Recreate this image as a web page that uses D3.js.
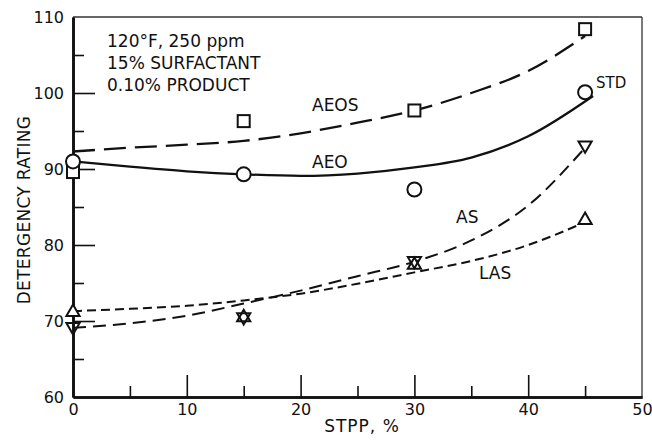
<!DOCTYPE html>
<html>
<head>
<meta charset="utf-8">
<script src="https://cdn.jsdelivr.net/npm/d3@7"></script>
<style>
  html, body { margin: 0; padding: 0; background: #fff; }
  svg { display: block; }
  text { font-family: "DejaVu Sans", sans-serif; fill: #111; }
</style>
</head>
<body>
<script>
// Detergency rating vs. STPP level for four surfactant systems
const xTicksMajor = [0, 10, 20, 30, 40, 50];
const xTicksMinor = [5, 15, 25, 35, 45];
const yTicksMajor = [60, 70, 80, 90, 100, 110];
const yTicksMinor = [65, 75, 85, 95, 105];

// Measured points (STPP %, rating)
const stpp = [0, 15, 30, 45];
const aeosPts = [89.6, 96.3, 97.7, 108.4];
const aeoPts = [91.0, 89.3, 87.3, 100.1];
const asPts = [69.1, 70.4, 77.8, 93.0];
const lasPts = [71.3, 70.6, 77.5, 83.4];

// Smoothed trend curves
const aeosCurveX = [0, 5, 10, 15, 20, 25, 30, 35, 40, 45];
const aeosCurveY = [92.3, 92.8, 93.2, 93.7, 94.7, 96.1, 97.7, 100.0, 102.9, 107.5];
const aeoCurveX = [0, 5, 10, 15, 20, 25, 30, 35, 40, 45.7];
const aeoCurveY = [91.0, 90.3, 89.7, 89.3, 89.1, 89.4, 90.2, 91.5, 94.3, 99.6];
const asCurveX = [0, 5, 10, 15, 20, 25, 30, 35, 40, 45];
const asCurveY = [69.1, 69.7, 70.7, 72.3, 74.0, 75.9, 77.8, 80.6, 85.2, 92.8];
const lasCurveX = [0, 5, 10, 15, 20, 25, 30, 35, 40, 45];
const lasCurveY = [71.3, 71.6, 72.0, 72.7, 73.6, 74.9, 76.4, 77.9, 80.0, 83.0];

const notes = ["120°F, 250 ppm", "15% SURFACTANT", "0.10% PRODUCT"];

const W = 652, H = 441;
const m = { left: 73, right: 10, top: 17, bottom: 44 };
const FONT = '"DejaVu Sans", sans-serif';

const svg = d3.select("body").append("svg").attr("width", W).attr("height", H);

const x = d3.scaleLinear().domain([0, 50]).range([m.left, W - m.right]);
const y = d3.scaleLinear().domain([60, 110]).range([H - m.bottom, m.top]);

// frame: thin top and right borders
svg.append("line").attr("x1", x(0)).attr("x2", x(50)).attr("y1", y(110)).attr("y2", y(110))
  .attr("stroke", "#333").attr("stroke-width", 1.3);
svg.append("line").attr("x1", x(50)).attr("x2", x(50)).attr("y1", y(110)).attr("y2", y(60))
  .attr("stroke", "#333").attr("stroke-width", 1.3);

// axes with inward ticks
const xAxis = svg.append("g").attr("transform", `translate(0,${y(60)})`)
  .call(d3.axisBottom(x).tickValues(xTicksMajor).tickSizeInner(-22).tickSizeOuter(0).tickPadding(7));
const xMinor = svg.append("g").attr("transform", `translate(0,${y(60)})`)
  .call(d3.axisBottom(x).tickValues(xTicksMinor).tickSizeInner(-11).tickSizeOuter(0).tickFormat(""));
const yAxis = svg.append("g").attr("transform", `translate(${x(0)},0)`)
  .call(d3.axisLeft(y).tickValues(yTicksMajor).tickSizeInner(-22).tickSizeOuter(0).tickPadding(9));
const yMinor = svg.append("g").attr("transform", `translate(${x(0)},0)`)
  .call(d3.axisLeft(y).tickValues(yTicksMinor).tickSizeInner(-11).tickSizeOuter(0).tickFormat(""));

[xAxis, xMinor, yAxis, yMinor].forEach(g => {
  g.select(".domain").attr("stroke", "#111").attr("stroke-width", 2.6);
  g.selectAll(".tick line").attr("stroke", "#111").attr("stroke-width", 1.6);
  g.selectAll(".tick text").style("font-family", FONT)
    .style("font-size", "16px").attr("fill", "#111");
});
// the 60/110 and 0/50 inward tick lines would sit on the frame, so drop them
yAxis.selectAll(".tick").filter(d => d === 60 || d === 110).select("line").remove();
xAxis.selectAll(".tick").filter(d => d === 0 || d === 50).select("line").remove();

// axis titles
svg.append("text").attr("x", 362).attr("y", 432).attr("text-anchor", "middle")
  .style("font-size", "17px").style("letter-spacing", "1px").text("STPP, %");
svg.append("text").attr("transform", `translate(30,210) rotate(-90)`).attr("text-anchor", "middle")
  .style("font-size", "17px").style("letter-spacing", "0.3px").text("DETERGENCY RATING");

// condition notes
svg.selectAll("text.note").data(notes).join("text").attr("class", "note")
  .attr("x", 107).attr("y", (d, i) => 47 + i * 22)
  .style("font-size", "17px").text(d => d);

// curves
const line = d3.line().x(d => x(d[0])).y(d => y(d[1])).curve(d3.curveMonotoneX);
const curves = [
  { xs: aeosCurveX, ys: aeosCurveY, dash: "22,9", w: 2.3 },
  { xs: aeoCurveX, ys: aeoCurveY, dash: null, w: 2.3 },
  { xs: asCurveX, ys: asCurveY, dash: "13,7", w: 2.0 },
  { xs: lasCurveX, ys: lasCurveY, dash: "9,5", w: 2.0 }
];
curves.forEach(c => {
  svg.append("path").datum(c.xs.map((v, i) => [v, c.ys[i]]))
    .attr("d", line).attr("fill", "none").attr("stroke", "#111")
    .attr("stroke-width", c.w).attr("stroke-dasharray", c.dash);
});

// markers
const mk = svg.append("g").attr("fill", "#fff").attr("stroke", "#111").attr("stroke-width", 2);
mk.selectAll("rect.aeos").data(stpp.map((v, i) => [v, aeosPts[i]])).join("rect")
  .attr("x", d => x(d[0]) - 6).attr("y", d => y(d[1]) - 6).attr("width", 12).attr("height", 12);
mk.selectAll("circle.aeo").data(stpp.map((v, i) => [v, aeoPts[i]])).join("circle")
  .attr("cx", d => x(d[0])).attr("cy", d => y(d[1])).attr("r", 7);
const triUp = d3.symbol().type(d3.symbolTriangle).size(75);
mk.selectAll("path.las").data(stpp.map((v, i) => [v, lasPts[i]])).join("path")
  .attr("transform", d => `translate(${x(d[0])},${y(d[1]) + 1})`).attr("d", triUp);
mk.selectAll("path.as").data(stpp.map((v, i) => [v, asPts[i]])).join("path")
  .attr("transform", d => `translate(${x(d[0])},${y(d[1]) - 1}) rotate(180)`).attr("d", triUp)
  .attr("fill", "none");

// series labels
const labels = [
  { t: "AEOS", x: 312, y: 111 },
  { t: "AEO", x: 312, y: 168 },
  { t: "STD", x: 596, y: 88, s: 15 },
  { t: "AS", x: 456, y: 223 },
  { t: "LAS", x: 479, y: 279 }
];
svg.selectAll("text.lbl").data(labels).join("text").attr("class", "lbl")
  .attr("x", d => d.x).attr("y", d => d.y).style("font-size", d => (d.s || 17) + "px").text(d => d.t);
</script>
</body>
</html>
